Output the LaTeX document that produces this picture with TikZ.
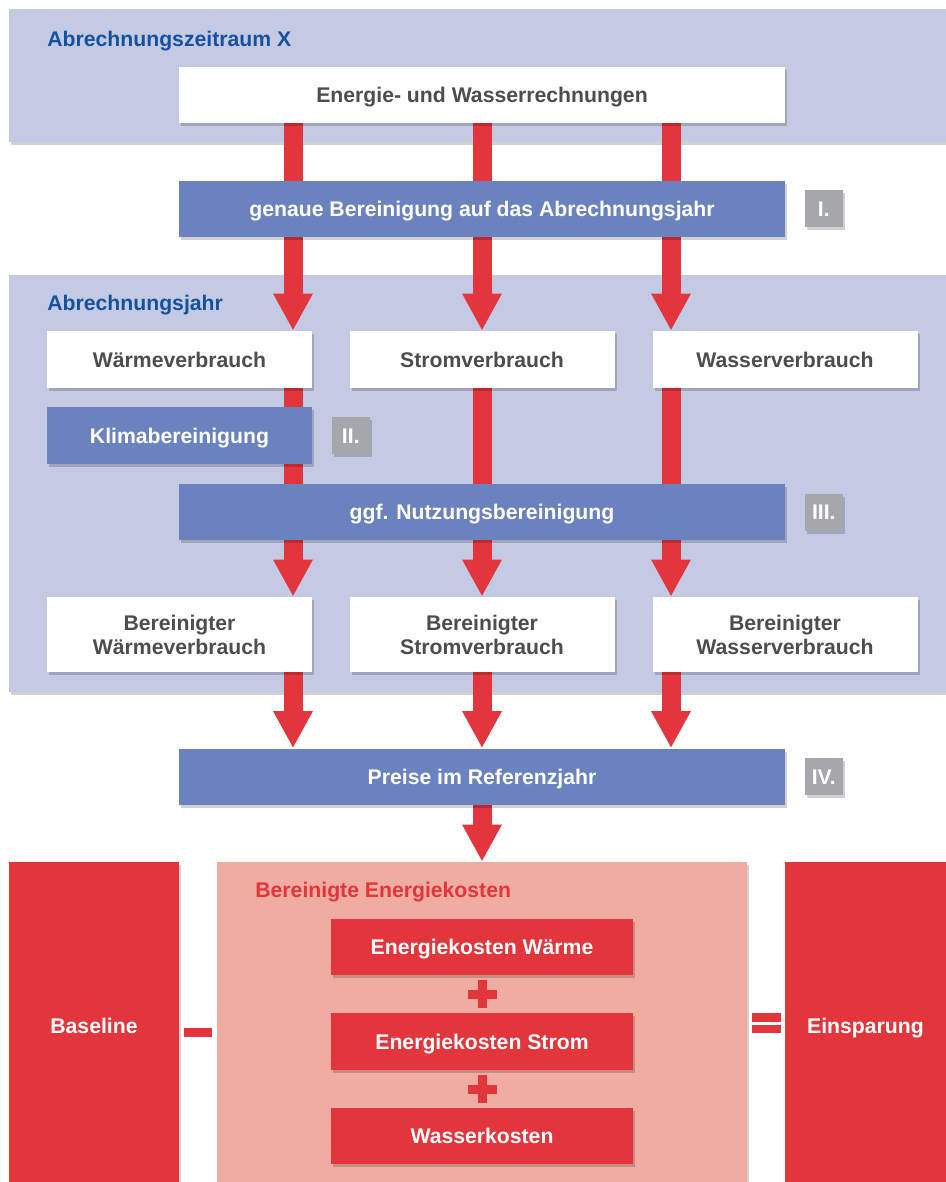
\documentclass[tikz,border=0pt]{standalone}
\usepackage{fontspec}
\setmainfont{Liberation Sans}
\usetikzlibrary{positioning,arrows.meta,shadows,calc}
\definecolor{panelblue}{RGB}{197,202,228}
\definecolor{stepblue}{RGB}{106,130,190}
\definecolor{titleblue}{RGB}{20,82,160}
\definecolor{numgrey}{RGB}{166,167,171}
\definecolor{flowred}{RGB}{227,53,60}
\definecolor{costpink}{RGB}{240,172,160}
\definecolor{textgrey}{RGB}{77,77,77}
\pgfdeclarelayer{bg}
\pgfdeclarelayer{arr}
\pgfsetlayers{bg,arr,main}
\tikzset{
  soft/.style={drop shadow={shadow xshift=1pt, shadow yshift=-1.5pt, opacity=0.18, fill=black}},
  oneline/.style={text height=7.6pt, text depth=0pt},
  whitebox/.style={fill=white, text=textgrey, soft, inner sep=0pt, align=center},
  bluebox/.style={fill=stepblue, text=white, soft, inner sep=0pt, oneline},
  numbox/.style={fill=numgrey, text=white, soft, minimum width=19pt, minimum height=18.5pt, inner sep=0pt, oneline},
  redbox/.style={fill=flowred, text=white, soft, inner sep=0pt, oneline},
  wide/.style={minimum width=303pt, minimum height=28pt},
  col/.style={minimum width=132.5pt, minimum height=28.5pt},
  colhigh/.style={minimum width=132.5pt, minimum height=37.5pt},
  flow/.style={flowred, line width=9.5pt, -{Triangle[length=18.5pt,width=18.5pt]}},
  paneltitle/.style={anchor=base west, inner sep=0pt}
}
\begin{document}
\begin{tikzpicture}[x=0.5pt, y=-0.5pt, font=\fontsize{10.6}{12}\selectfont\bfseries]
  \useasboundingbox (0,0) rectangle (946,1182);

  \begin{pgfonlayer}{bg}
    \fill[panelblue, soft] (9,9) rectangle (970,142);
    \fill[panelblue, soft] (9,275) rectangle (970,692);
  \end{pgfonlayer}

  \node[paneltitle, text=titleblue] (t1) at (47,47) {Abrechnungszeitraum X};
  \node[paneltitle, text=titleblue] (t2) at (47,310) {Abrechnungsjahr};

  \node[whitebox, wide, oneline] (ewr) at (482,95) {Energie- und Wasserrechnungen};
  \node[bluebox, wide] (ber) at (482,209) {genaue Bereinigung auf das Abrechnungsjahr};
  \node[numbox, right=9.5pt of ber] (n1) {I.};

  \node[whitebox, col, oneline] (waerme) at (179.5,359.5) {Wärmeverbrauch};
  \node[whitebox, col, oneline] (strom) at (482,359.5) {Stromverbrauch};
  \node[whitebox, col, oneline] (wasser) at (785,359.5) {Wasserverbrauch};

  \node[bluebox, col] (klima) at (179.5,435.5) {Klimabereinigung};
  \node[numbox, right=9.5pt of klima] (n2) {II.};
  \node[bluebox, wide] (nutz) at (482,512) {ggf. Nutzungsbereinigung};
  \node[numbox, right=9.5pt of nutz] (n3) {III.};

  \node[whitebox, colhigh] (bwaerme) at (179.5,634.5) {Bereinigter\\Wärmeverbrauch};
  \node[whitebox, colhigh] (bstrom) at (482,634.5) {Bereinigter\\Stromverbrauch};
  \node[whitebox, colhigh] (bwasser) at (785,634.5) {Bereinigter\\Wasserverbrauch};

  \node[bluebox, wide] (preise) at (482,776.5) {Preise im Referenzjahr};
  \node[numbox, right=9.5pt of preise] (n4) {IV.};

  \node[redbox, minimum width=85pt, minimum height=164pt] (base) at (94,1026) {Baseline};
  \node[fill=costpink, soft, minimum width=265pt, minimum height=164pt, inner sep=0pt] (bek) at (482,1026) {};
  \node[redbox, minimum width=80.5pt, minimum height=164pt] (spar) at (865.5,1026) {Einsparung};
  \node[paneltitle, text=flowred] (t3) at (255,897) {Bereinigte Energiekosten};

  \node[redbox, minimum width=151pt, minimum height=28pt] (kw) at (482,947) {Energiekosten Wärme};
  \node[redbox, minimum width=151pt, minimum height=28.5pt] (ks) at (482,1041.5) {Energiekosten Strom};
  \node[redbox, minimum width=151pt, minimum height=28pt] (wk) at (482,1136) {Wasserkosten};

  \coordinate (c1) at (293,0);
  \coordinate (c2) at (482,0);
  \coordinate (c3) at (671,0);

  \begin{pgfonlayer}{arr}
    \foreach \c/\va/\vb in {c1/waerme/bwaerme, c2/strom/bstrom, c3/wasser/bwasser}{
      \draw[flow] (ewr.south -| \c) -- (\va.north -| \c);
      \draw[flow] (\va.south -| \c) -- (\vb.north -| \c);
      \draw[flow] (\vb.south -| \c) -- (preise.north -| \c);
    }
    \draw[flow] (preise.south) -- (bek.north);
  \end{pgfonlayer}

  % Rechenzeichen
  \coordinate (p1) at ($(kw.south)!0.5!(ks.north)$);
  \coordinate (p2) at ($(ks.south)!0.5!(wk.north)$);
  \foreach \p in {p1,p2}{
    \fill[flowred] ($(\p)+(-14.5,-4.5)$) rectangle ($(\p)+(14.5,4.5)$);
    \fill[flowred] ($(\p)+(-4.5,-14)$) rectangle ($(\p)+(4.5,14)$);
  }
  \coordinate (minus) at ($(base.east)!0.5!(bek.west)$);
  \fill[flowred] ($(minus)+(-14,2)$) rectangle ($(minus)+(14,11)$);
  \coordinate (eq) at ($(bek.east)!0.5!(spar.west)$);
  \fill[flowred] ($(eq)+(-14.5,-13)$) rectangle ($(eq)+(14.5,-4)$);
  \fill[flowred] ($(eq)+(-14.5,-1)$) rectangle ($(eq)+(14.5,7)$);
\end{tikzpicture}
\end{document}
